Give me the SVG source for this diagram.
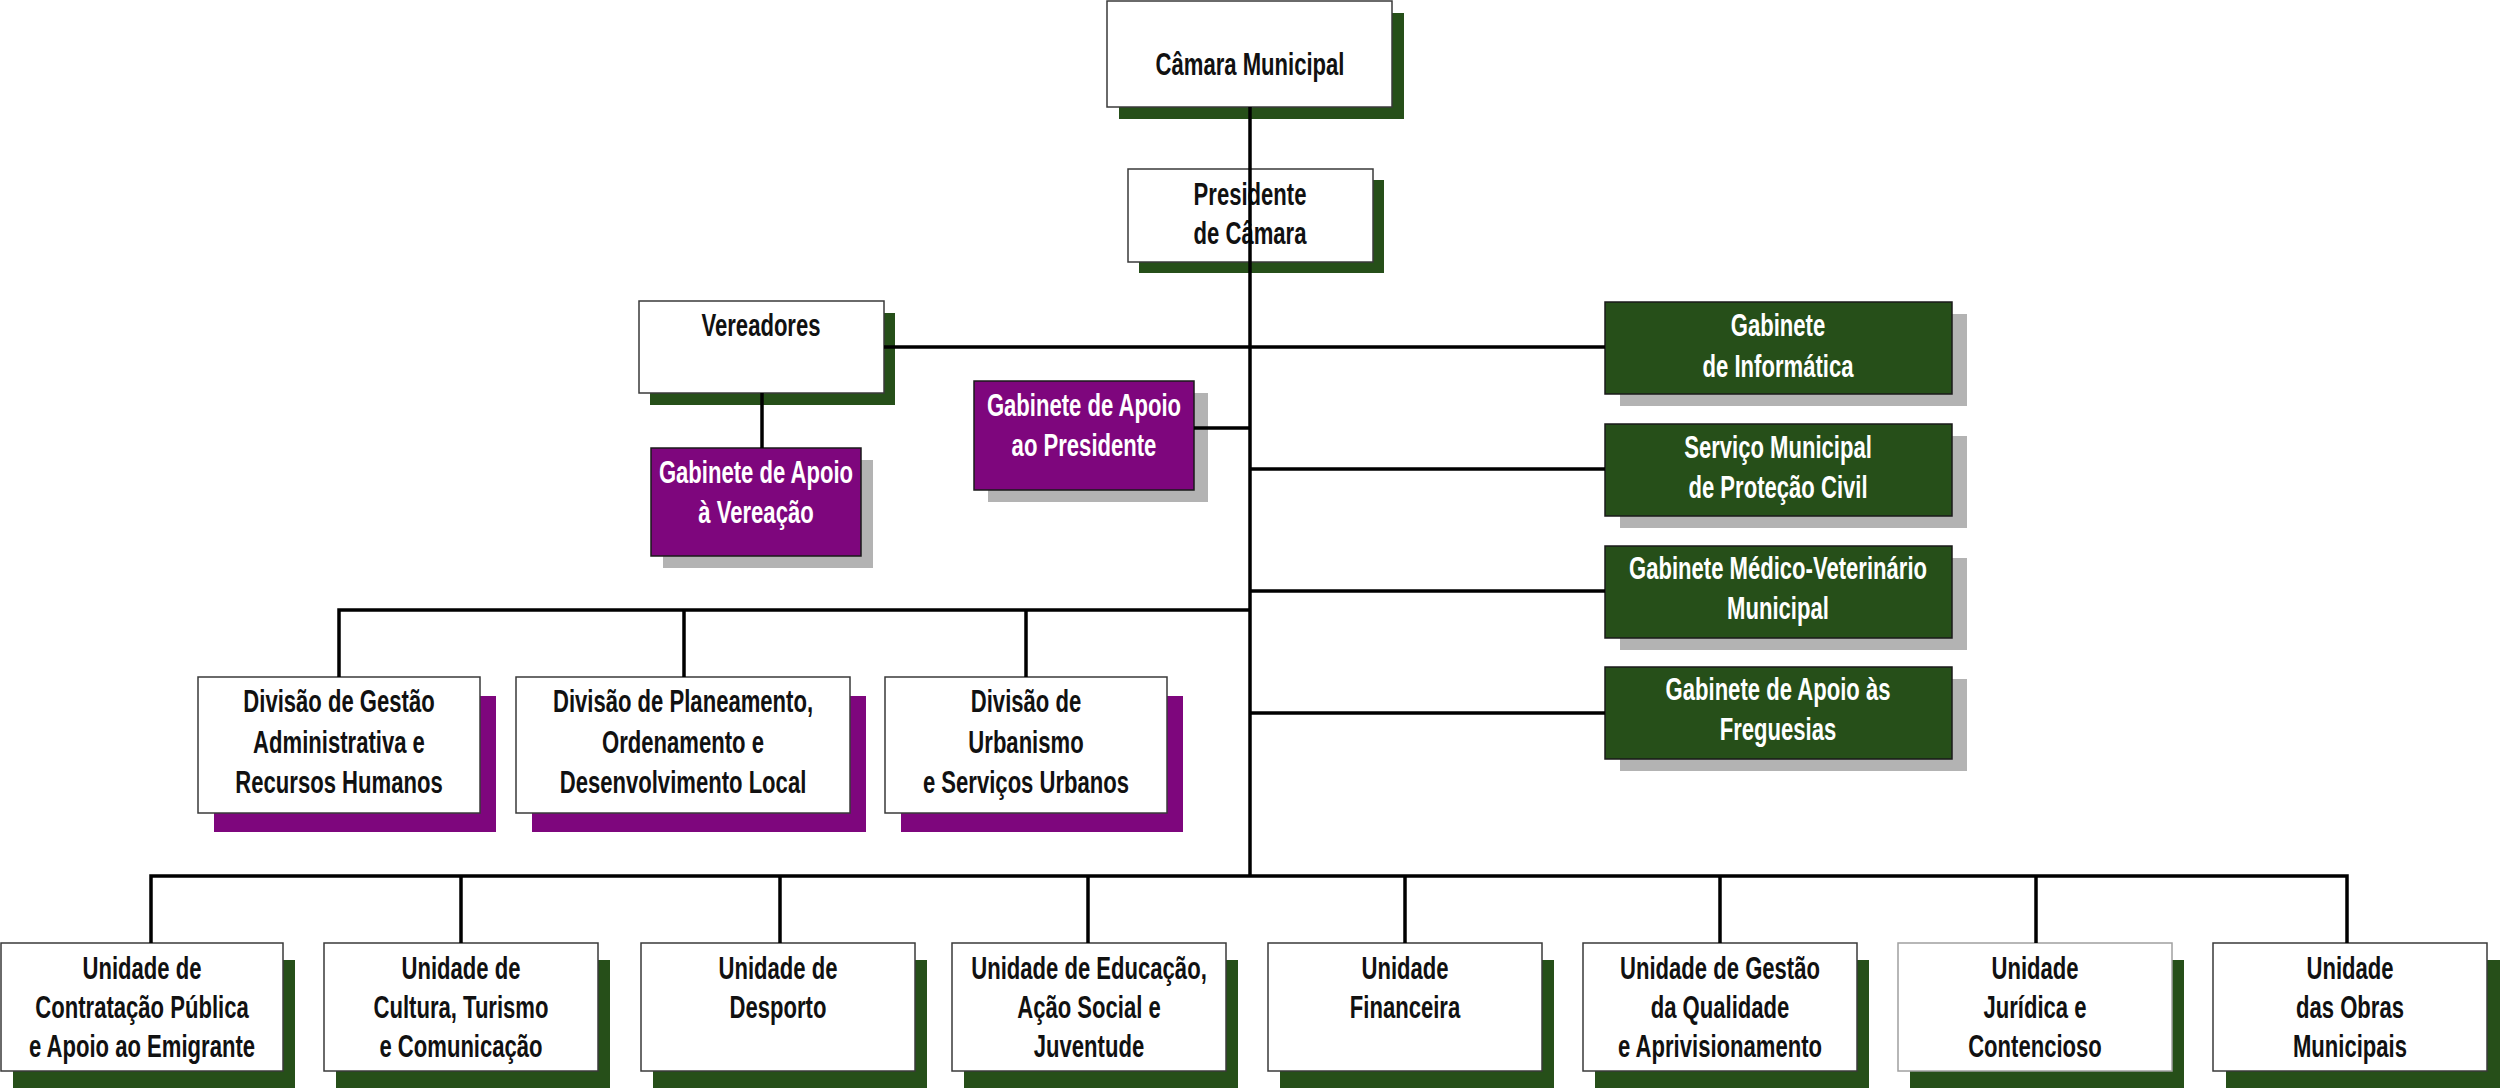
<svg xmlns="http://www.w3.org/2000/svg" width="2500" height="1088" viewBox="0 0 2500 1088">
<style>
.bg{fill:#ffffff}
.wb{fill:#ffffff;stroke:#3a3a3a;stroke-width:1.5}
.gb{fill:#264f19;stroke:#1a1a1a;stroke-width:1.5}
.pb{fill:#7e067d;stroke:#1a1a1a;stroke-width:1.5}
.gs{fill:#264f19}
.ps{fill:#7e067d}
.ys{fill:#b3b3b3}
.t{font-family:"Liberation Sans",Arial,sans-serif;font-weight:bold;font-size:32px;text-anchor:middle;fill:#111111}
.tw{font-family:"Liberation Sans",Arial,sans-serif;font-weight:bold;font-size:32px;text-anchor:middle;fill:#ffffff}
.c{fill:none;stroke:#000000;stroke-width:3.5}
</style>
<rect class="bg" x="0" y="0" width="2500" height="1088"/>

<g id="camara">
<rect class="gs" x="1119" y="13" width="285" height="106"/>
<rect class="wb" x="1107" y="1" width="285" height="106"/>
<text class="t" transform="translate(1250 0) scale(0.69 1)"><tspan x="0" y="75">Câmara Municipal</tspan></text>
</g>

<g id="presidente">
<rect class="gs" x="1139" y="180" width="245" height="93"/>
<rect class="wb" x="1128" y="169" width="245" height="93"/>
<text class="t" transform="translate(1250 0) scale(0.69 1)"><tspan x="0" y="205">Presidente</tspan><tspan x="0" y="244">de Câmara</tspan></text>
</g>

<g id="vereadores">
<rect class="gs" x="650" y="313" width="245" height="92"/>
<rect class="wb" x="639" y="301" width="245" height="92"/>
<text class="t" transform="translate(761 0) scale(0.69 1)"><tspan x="0" y="336">Vereadores</tspan></text>
</g>

<g id="gab-apoio-vereacao">
<rect class="ys" x="663" y="460" width="210" height="108"/>
<rect class="pb" x="651" y="448" width="210" height="108"/>
<text class="tw" transform="translate(756 0) scale(0.69 1)"><tspan x="0" y="483">Gabinete de Apoio</tspan><tspan x="0" y="523">à Vereação</tspan></text>
</g>

<g id="gab-apoio-presidente">
<rect class="ys" x="988" y="393" width="220" height="109"/>
<rect class="pb" x="974" y="381" width="220" height="109"/>
<text class="tw" transform="translate(1084 0) scale(0.69 1)"><tspan x="0" y="416">Gabinete de Apoio</tspan><tspan x="0" y="456">ao Presidente</tspan></text>
</g>

<g id="gab-informatica">
<rect class="ys" x="1620" y="314" width="347" height="92"/>
<rect class="gb" x="1605" y="302" width="347" height="92"/>
<text class="tw" transform="translate(1778 0) scale(0.69 1)"><tspan x="0" y="336">Gabinete</tspan><tspan x="0" y="377">de Informática</tspan></text>
</g>

<g id="protecao-civil">
<rect class="ys" x="1620" y="436" width="347" height="92"/>
<rect class="gb" x="1605" y="424" width="347" height="92"/>
<text class="tw" transform="translate(1778 0) scale(0.69 1)"><tspan x="0" y="458">Serviço Municipal</tspan><tspan x="0" y="498">de Proteção Civil</tspan></text>
</g>

<g id="medico-veterinario">
<rect class="ys" x="1620" y="558" width="347" height="92"/>
<rect class="gb" x="1605" y="546" width="347" height="92"/>
<text class="tw" transform="translate(1778 0) scale(0.69 1)"><tspan x="0" y="579">Gabinete Médico-Veterinário</tspan><tspan x="0" y="619">Municipal</tspan></text>
</g>

<g id="apoio-freguesias">
<rect class="ys" x="1620" y="679" width="347" height="92"/>
<rect class="gb" x="1605" y="667" width="347" height="92"/>
<text class="tw" transform="translate(1778 0) scale(0.69 1)"><tspan x="0" y="700">Gabinete de Apoio às</tspan><tspan x="0" y="740">Freguesias</tspan></text>
</g>

<g id="div-gestao">
<rect class="ps" x="214" y="696" width="282" height="136"/>
<rect class="wb" x="198" y="677" width="282" height="136"/>
<text class="t" transform="translate(339 0) scale(0.69 1)"><tspan x="0" y="712">Divisão de Gestão</tspan><tspan x="0" y="753">Administrativa e</tspan><tspan x="0" y="793">Recursos Humanos</tspan></text>
</g>

<g id="div-planeamento">
<rect class="ps" x="532" y="696" width="334" height="136"/>
<rect class="wb" x="516" y="677" width="334" height="136"/>
<text class="t" transform="translate(683 0) scale(0.69 1)"><tspan x="0" y="712">Divisão de Planeamento,</tspan><tspan x="0" y="753">Ordenamento e</tspan><tspan x="0" y="793">Desenvolvimento Local</tspan></text>
</g>

<g id="div-urbanismo">
<rect class="ps" x="901" y="696" width="282" height="136"/>
<rect class="wb" x="885" y="677" width="282" height="136"/>
<text class="t" transform="translate(1026 0) scale(0.69 1)"><tspan x="0" y="712">Divisão de</tspan><tspan x="0" y="753">Urbanismo</tspan><tspan x="0" y="793">e Serviços Urbanos</tspan></text>
</g>

<g id="un-contratacao">
<rect class="gs" x="13" y="960" width="282" height="128"/>
<rect class="wb" x="1" y="943" width="282" height="128"/>
<text class="t" transform="translate(142 0) scale(0.69 1)"><tspan x="0" y="979">Unidade de</tspan><tspan x="0" y="1018">Contratação Pública</tspan><tspan x="0" y="1057">e Apoio ao Emigrante</tspan></text>
</g>

<g id="un-cultura">
<rect class="gs" x="336" y="960" width="274" height="128"/>
<rect class="wb" x="324" y="943" width="274" height="128"/>
<text class="t" transform="translate(461 0) scale(0.69 1)"><tspan x="0" y="979">Unidade de</tspan><tspan x="0" y="1018">Cultura, Turismo</tspan><tspan x="0" y="1057">e Comunicação</tspan></text>
</g>

<g id="un-desporto">
<rect class="gs" x="653" y="960" width="274" height="128"/>
<rect class="wb" x="641" y="943" width="274" height="128"/>
<text class="t" transform="translate(778 0) scale(0.69 1)"><tspan x="0" y="979">Unidade de</tspan><tspan x="0" y="1018">Desporto</tspan></text>
</g>

<g id="un-educacao">
<rect class="gs" x="964" y="960" width="274" height="128"/>
<rect class="wb" x="952" y="943" width="274" height="128"/>
<text class="t" transform="translate(1089 0) scale(0.69 1)"><tspan x="0" y="979">Unidade de Educação,</tspan><tspan x="0" y="1018">Ação Social e</tspan><tspan x="0" y="1057">Juventude</tspan></text>
</g>

<g id="un-financeira">
<rect class="gs" x="1280" y="960" width="274" height="128"/>
<rect class="wb" x="1268" y="943" width="274" height="128"/>
<text class="t" transform="translate(1405 0) scale(0.69 1)"><tspan x="0" y="979">Unidade</tspan><tspan x="0" y="1018">Financeira</tspan></text>
</g>

<g id="un-qualidade">
<rect class="gs" x="1595" y="960" width="274" height="128"/>
<rect class="wb" x="1583" y="943" width="274" height="128"/>
<text class="t" transform="translate(1720 0) scale(0.69 1)"><tspan x="0" y="979">Unidade de Gestão</tspan><tspan x="0" y="1018">da Qualidade</tspan><tspan x="0" y="1057">e Aprivisionamento</tspan></text>
</g>

<g id="un-juridica">
<rect class="gs" x="1910" y="960" width="274" height="128"/>
<rect class="wb" x="1898" y="943" width="274" height="128" style="stroke:#a0a0a0"/>
<text class="t" transform="translate(2035 0) scale(0.69 1)"><tspan x="0" y="979">Unidade</tspan><tspan x="0" y="1018">Jurídica e</tspan><tspan x="0" y="1057">Contencioso</tspan></text>
</g>

<g id="un-obras">
<rect class="gs" x="2226" y="960" width="274" height="128"/>
<rect class="wb" x="2213" y="943" width="274" height="128"/>
<text class="t" transform="translate(2350 0) scale(0.69 1)"><tspan x="0" y="979">Unidade</tspan><tspan x="0" y="1018">das Obras</tspan><tspan x="0" y="1057">Municipais</tspan></text>
</g>

<g id="connectors">
<path class="c" d="M1250 107 V876"/>
<path class="c" d="M884 347 H1605"/>
<path class="c" d="M762 393 V448"/>
<path class="c" d="M1194 428 H1250"/>
<path class="c" d="M1250 469 H1605"/>
<path class="c" d="M1250 591 H1605"/>
<path class="c" d="M1250 713 H1605"/>
<path class="c" d="M339 677 V610 H1250"/>
<path class="c" d="M684 610 V677"/>
<path class="c" d="M1026 610 V677"/>
<path class="c" d="M151 943 V876 H2347 V943"/>
<path class="c" d="M461 876 V943"/>
<path class="c" d="M780 876 V943"/>
<path class="c" d="M1088 876 V943"/>
<path class="c" d="M1405 876 V943"/>
<path class="c" d="M1720 876 V943"/>
<path class="c" d="M2036 876 V943"/>
</g>
</svg>
